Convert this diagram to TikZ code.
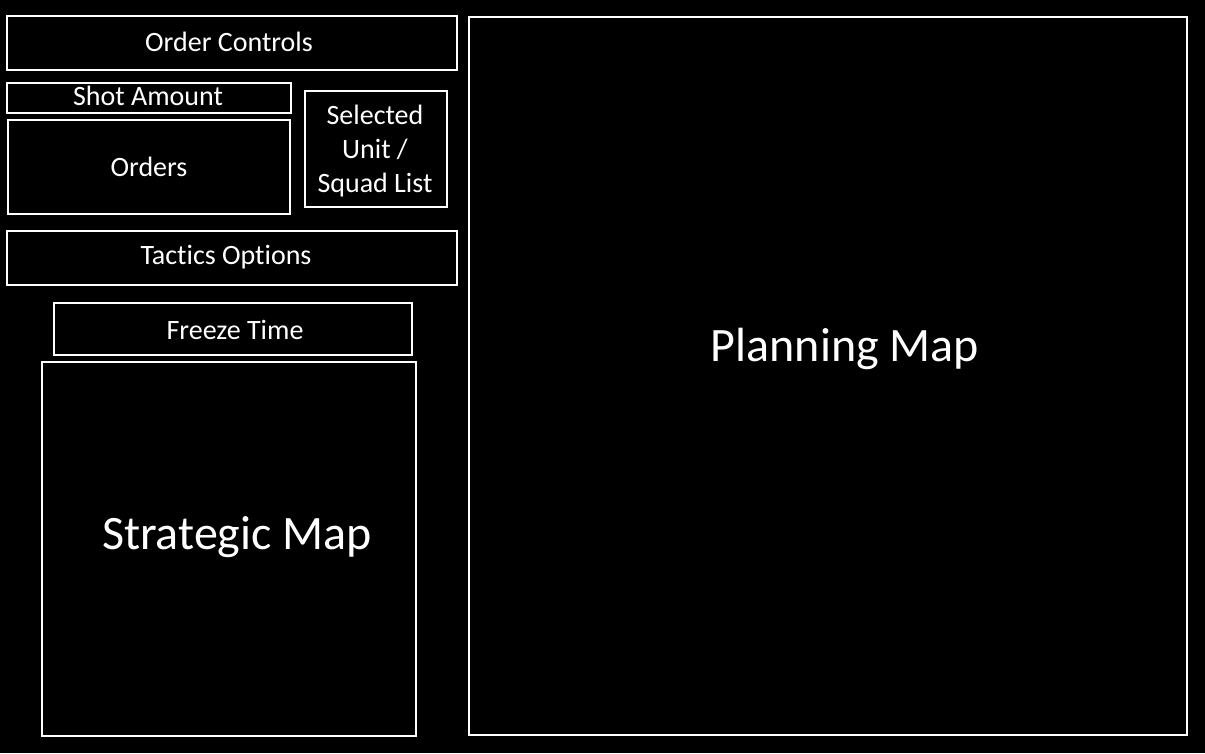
\documentclass[tikz,border=0pt]{standalone}
\usepackage{fontspec}
\setmainfont[Ligatures={NoCommon}]{Carlito}
\begin{document}
\begin{tikzpicture}[x=1pt,y=-1pt,
  box/.style={draw=white,line width=2pt,inner sep=0pt,outer sep=0pt},
  lbl/.style={text=white,font=\fontsize{28}{34}\selectfont,align=center,inner sep=0pt},
  big/.style={text=white,font=\fontsize{48}{56}\selectfont,inner sep=0pt}]
\fill[black] (0,0) rectangle (1205,753);
\useasboundingbox (0,0) rectangle (1205,753);
\node[box,minimum width=450,minimum height=54] (oc) at (232,43) {};
\node[lbl] (oct) at ([xshift=-3pt,yshift=1pt]oc.center) {Order Controls};
\node[box,minimum width=284,minimum height=30] (sa) at (149,98) {};
\node[lbl] (sat) at ([xshift=-1pt,yshift=2pt]sa.center) {Shot Amount};
\node[box,minimum width=282,minimum height=94] (or) at (149,167) {};
\node[lbl] (ort) at (or.center) {Orders};
\node[box,minimum width=142,minimum height=116] (su) at (376,149) {};
\node[lbl] (sut) at ([xshift=-1pt,yshift=-2pt]su.center) {Selected\\Unit /\\Squad List};
\node[box,minimum width=450,minimum height=54] (to) at (232,258) {};
\node[lbl] (tot) at ([xshift=-6pt,yshift=1pt]to.center) {Tactics Options};
\node[box,minimum width=358,minimum height=52] (ft) at (233,329) {};
\node[lbl] (ftt) at ([xshift=2pt,yshift=-1pt]ft.center) {Freeze Time};
\node[box,minimum width=374,minimum height=374] (sm) at (229,549) {};
\node[big] (smt) at (237,537) {Strategic Map};
\node[box,minimum width=718,minimum height=718] (pm) at (828,376) {};
\node[big] (pmt) at (845,349) {Planning Map};
\end{tikzpicture}
\end{document}
